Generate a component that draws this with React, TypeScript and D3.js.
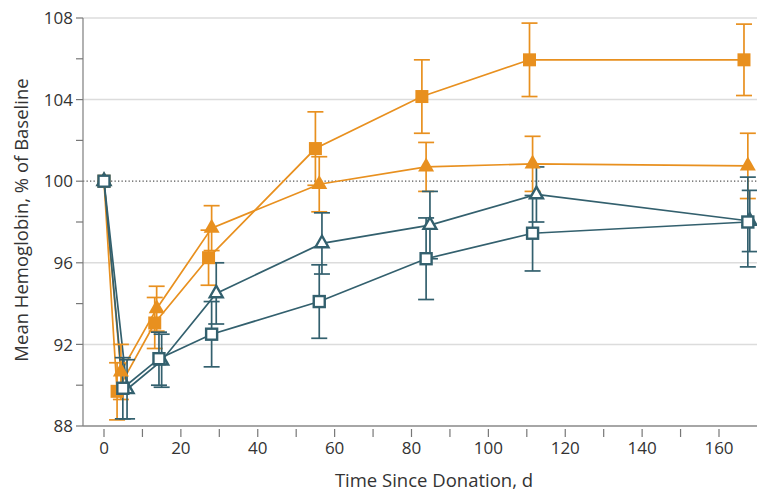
import React from "react";
import * as d3 from "d3";

const W = 757;
const H = 492;

const yTicksMajor = [88, 92, 96, 100, 104, 108];
const yTicksMinor = [90, 94, 98, 102, 106];
const xTicksLabeled = [0, 20, 40, 60, 80, 100, 120, 140, 160];
const xTicksAll = [0, 10, 20, 30, 40, 50, 60, 70, 80, 90, 100, 110, 120, 130, 140, 150, 160];
const gridValues = [92, 96, 104, 108];

// Orange filled squares
const osDays = [0, 3.4, 13.2, 27.2, 55, 82.7, 110.7, 166.5];
const osMean = [100, 89.7, 93.05, 96.25, 101.6, 104.15, 105.95, 105.95];
const osErr = [0, 1.4, 1.25, 1.35, 1.8, 1.8, 1.8, 1.75];

// Orange filled triangles
const otDays = [0, 4.4, 13.7, 28, 56, 83.8, 111.5, 167.5];
const otMean = [100, 90.65, 93.75, 97.7, 99.85, 100.7, 100.85, 100.75];
const otErr = [0, 1.35, 1.1, 1.1, 1.35, 1.2, 1.35, 1.6];

// Teal open squares
const tsDays = [0, 4.9, 14.3, 28, 56, 83.8, 111.5, 167.5];
const tsMean = [100, 89.85, 91.3, 92.5, 94.1, 96.2, 97.45, 98.0];
const tsErr = [0, 1.5, 1.3, 1.6, 1.8, 2.0, 1.85, 2.2];

// Teal open triangles
const ttDays = [0, 6, 15, 29.2, 56.7, 84.8, 112.5, 168];
const ttMean = [100, 89.8, 91.2, 94.5, 96.95, 97.85, 99.35, 98.05];
const ttErr = [0, 1.45, 1.3, 1.5, 1.5, 1.65, 1.35, 1.5];

const ORANGE = "#E8901F";
const TEAL = "#33606E";
const FONT = "'Open Sans', 'DejaVu Sans', sans-serif";

type Series = {
  days: number[];
  mean: number[];
  err: number[];
  color: string;
  shape: "square" | "triangle";
  filled: boolean;
};

const series: Series[] = [
  { days: osDays, mean: osMean, err: osErr, color: ORANGE, shape: "square", filled: true },
  { days: otDays, mean: otMean, err: otErr, color: ORANGE, shape: "triangle", filled: true },
  { days: ttDays, mean: ttMean, err: ttErr, color: TEAL, shape: "triangle", filled: false },
  { days: tsDays, mean: tsMean, err: tsErr, color: TEAL, shape: "square", filled: false },
];

export default function App() {
  const x = d3.scaleLinear().domain([0, 160]).range([104, 719]);
  const y = d3.scaleLinear().domain([88, 108]).range([426, 18]);
  const axisLeft = 83;
  const axisRight = W;

  const line = d3
    .line<[number, number]>()
    .x((d) => x(d[0]))
    .y((d) => y(d[1]));

  return (
    <svg
      width={W}
      height={H}
      style={{ position: "absolute", left: 0, top: 0, background: "#fff" }}
    >
      {/* grid */}
      {gridValues.map((v) => (
        <line key={"g" + v} x1={axisLeft} x2={axisRight} y1={y(v)} y2={y(v)} stroke="#dcdcdc" strokeWidth={1.5} />
      ))}
      <line x1={axisLeft} x2={axisRight} y1={y(100)} y2={y(100)} stroke="#555" strokeWidth={1.3} strokeDasharray="1.3,2.2" />

      {/* axes */}
      <line x1={axisLeft} x2={axisLeft} y1={y(108)} y2={y(88)} stroke="#888" strokeWidth={1.3} />
      <line x1={axisLeft} x2={axisRight} y1={y(88)} y2={y(88)} stroke="#888" strokeWidth={1.3} />
      {yTicksMajor.concat(yTicksMinor).map((v) => (
        <line key={"yt" + v} x1={axisLeft - 7} x2={axisLeft} y1={y(v)} y2={y(v)} stroke="#777" strokeWidth={1.2} />
      ))}
      {yTicksMajor.map((v) => (
        <text key={"yl" + v} x={73} y={y(v)} dy="0.36em" textAnchor="end" fontFamily={FONT} fontSize={17} fill="#333">
          {v}
        </text>
      ))}
      {xTicksAll.map((v) => (
        <line key={"xt" + v} x1={x(v)} x2={x(v)} y1={429} y2={437} stroke="#777" strokeWidth={1.2} />
      ))}
      {xTicksLabeled.map((v) => (
        <text key={"xl" + v} x={x(v)} y={454} textAnchor="middle" fontFamily={FONT} fontSize={17} fill="#333">
          {v}
        </text>
      ))}
      <text x={434} y={487} textAnchor="middle" fontFamily={FONT} fontSize={18.5} fill="#333">
        Time Since Donation, d
      </text>
      <text
        transform={`translate(28,${220}) rotate(-90)`}
        textAnchor="middle"
        fontFamily={FONT}
        fontSize={18.5}
        fill="#333"
      >
        Mean Hemoglobin, % of Baseline
      </text>

      {/* lines */}
      {series.map((s, i) => (
        <path
          key={"l" + i}
          d={line(s.days.map((d, j) => [d, s.mean[j]] as [number, number])) || ""}
          fill="none"
          stroke={s.color}
          strokeWidth={1.7}
        />
      ))}

      {/* error bars + markers */}
      {series.map((s, i) => (
        <g key={"s" + i}>
          {s.days.map((d, j) =>
            s.err[j] > 0 ? (
              <g key={"e" + j} stroke={s.color} strokeWidth={1.7}>
                <line x1={x(d)} x2={x(d)} y1={y(s.mean[j] + s.err[j])} y2={y(s.mean[j] - s.err[j])} />
                <line x1={x(d) - 8} x2={x(d) + 8} y1={y(s.mean[j] + s.err[j])} y2={y(s.mean[j] + s.err[j])} />
                <line x1={x(d) - 8} x2={x(d) + 8} y1={y(s.mean[j] - s.err[j])} y2={y(s.mean[j] - s.err[j])} />
              </g>
            ) : null
          )}
        </g>
      ))}
      {series.map((s, i) => (
        <g key={"m" + i}>
          {s.days.map((d, j) => {
            const cx = x(d);
            const cy = y(s.mean[j]);
            if (s.shape === "square") {
              const size = s.filled ? 13 : 11;
              return (
                <rect
                  key={"p" + j}
                  x={cx - size / 2}
                  y={cy - size / 2}
                  width={size}
                  height={size}
                  fill={s.filled ? s.color : "#fff"}
                  stroke={s.color}
                  strokeWidth={s.filled ? 0 : 2.4}
                />
              );
            }
            const half = s.filled ? 8 : 6.5;
            const h = s.filled ? 14 : 11.5;
            const pts = [
              [cx, cy - (h * 2) / 3],
              [cx - half, cy + h / 3],
              [cx + half, cy + h / 3],
            ]
              .map((p) => p.join(","))
              .join(" ");
            return (
              <polygon
                key={"p" + j}
                points={pts}
                fill={s.filled ? s.color : "#fff"}
                stroke={s.color}
                strokeWidth={s.filled ? 0 : 2.4}
                strokeLinejoin="miter"
              />
            );
          })}
        </g>
      ))}
    </svg>
  );
}
